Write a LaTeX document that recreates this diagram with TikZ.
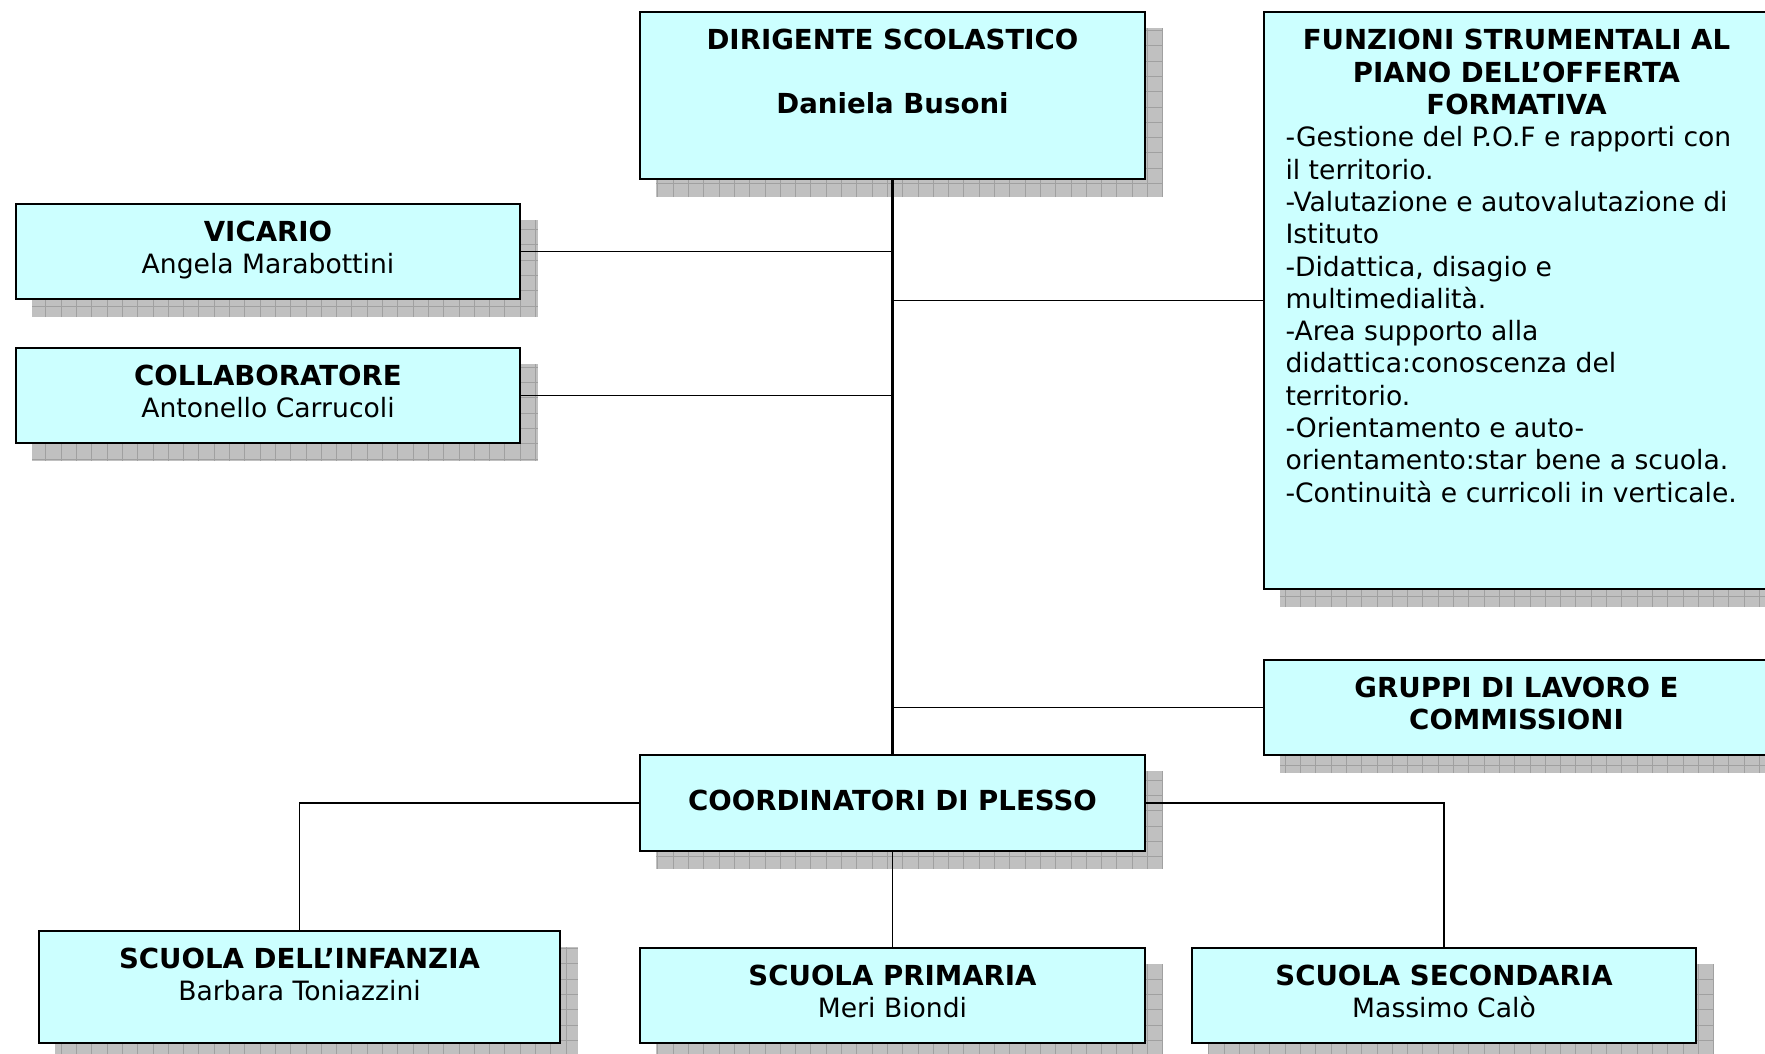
\documentclass[tikz,border=0pt]{standalone}
\usepackage{fontspec}
\setmainfont{DejaVu Sans}
\usetikzlibrary{calc,backgrounds}
\definecolor{boxcyan}{HTML}{CCFFFF}
\definecolor{shadowgray}{HTML}{C0C0C0}
\definecolor{shadowline}{HTML}{A0A0A0}
\newcommand{\orgtxt}[4]{\parbox[t][#2pt][t]{#1pt}{\centering\rule{0pt}{#3pt}#4}}
\newcommand{\orgtitle}[1]{{\fontsize{27.6}{32.3}\selectfont\bfseries #1}}
\tikzset{
  orgbox/.style={draw, fill=boxcyan, line width=2pt, inner sep=0pt, anchor=north west,
    font=\fontsize{26.6}{32.3}\selectfont},
  orgline/.style={line width=1.8pt}
}

\begin{document}
\begin{tikzpicture}[x=1pt,y=-1pt]
                    \useasboundingbox (0,0) rectangle (1765,1054);
                    \node[orgbox] (dir) at (639,11) {\orgtxt{505}{167}{38}{\orgtitle{DIRIGENTE SCOLASTICO}\\[31pt]\orgtitle{Daniela Busoni}}};
                    \node[orgbox] (funz) at (1263,11) {\orgtxt{505}{577}{38}{\orgtitle{FUNZIONI STRUMENTALI AL\\PIANO DELL’OFFERTA\\FORMATIVA}\par
                      \raggedright\hspace*{21.5pt}\begin{tabular}[t]{@{}l@{}}
                      -Gestione del P.O.F e rapporti con\\
                      il territorio.\\
                      -Valutazione e autovalutazione di\\
                      Istituto\\
                      -Didattica, disagio e\\
                      multimedialità.\\
                      -Area supporto alla\\
                      didattica:conoscenza del\\
                      territorio.\\
                      -Orientamento e auto-\\
                      orientamento:star bene a scuola.\\
                      -Continuità e curricoli in verticale.
                      \end{tabular}}};
                    \node[orgbox] (vic) at (15,203) {\orgtxt{504}{95}{37}{\orgtitle{VICARIO}\\Angela Marabottini}};
                    \node[orgbox] (col) at (15,347) {\orgtxt{504}{95}{37}{\orgtitle{COLLABORATORE}\\Antonello Carrucoli}};
                    \node[orgbox] (grp) at (1263,659) {\orgtxt{505}{95}{37}{\orgtitle{GRUPPI DI LAVORO E\\COMMISSIONI}}};
                    \node[orgbox] (coord) at (639,754) {\orgtxt{505}{96}{55}{\orgtitle{COORDINATORI DI PLESSO}}};
                    \node[orgbox] (inf) at (38,930) {\orgtxt{521}{112}{37.5}{\orgtitle{SCUOLA DELL’INFANZIA}\\Barbara Toniazzini}};
                    \node[orgbox] (prim) at (639,947) {\orgtxt{505}{95}{37.5}{\orgtitle{SCUOLA PRIMARIA}\\Meri Biondi}};
                    \node[orgbox] (sec) at (1191,947) {\orgtxt{504}{95}{37.5}{\orgtitle{SCUOLA SECONDARIA}\\Massimo Calò}};
                    \begin{scope}[on background layer]
                      \foreach \n in {dir,funz,vic,col,grp,coord,inf,prim,sec}{
                        \begin{scope}
                          \clip ($(\n.south west)+(17,17)$) rectangle ($(\n.north east)+(17,17)$);
                          \fill[shadowgray] ($(\n.south west)+(17,17)$) rectangle ($(\n.north east)+(17,17)$);
                          \draw[shadowline, line width=1pt, step=15.3pt] ($(\n.south west)+(17,17)$) grid ($(\n.north east)+(17,17)$);
                        \end{scope}
                      }
                    \end{scope}
                    \draw[orgline, line width=2.5pt] (dir.south) -- (coord.north);
                    \draw[orgline] (vic.east) -- (vic.east -| dir.south);
                    \draw[orgline] (col.east) -- (col.east -| dir.south);
                    \draw[orgline] (funz.west) -- (funz.west -| dir.south);
                    \draw[orgline] (grp.west) -- (grp.west -| dir.south);
                    \draw[orgline] (coord.west) -| (inf.north);
                    \draw[orgline] (coord.east) -| (sec.north);
                    \draw[orgline] (coord.south) -- (prim.north);
                \end{tikzpicture}
\end{document}
